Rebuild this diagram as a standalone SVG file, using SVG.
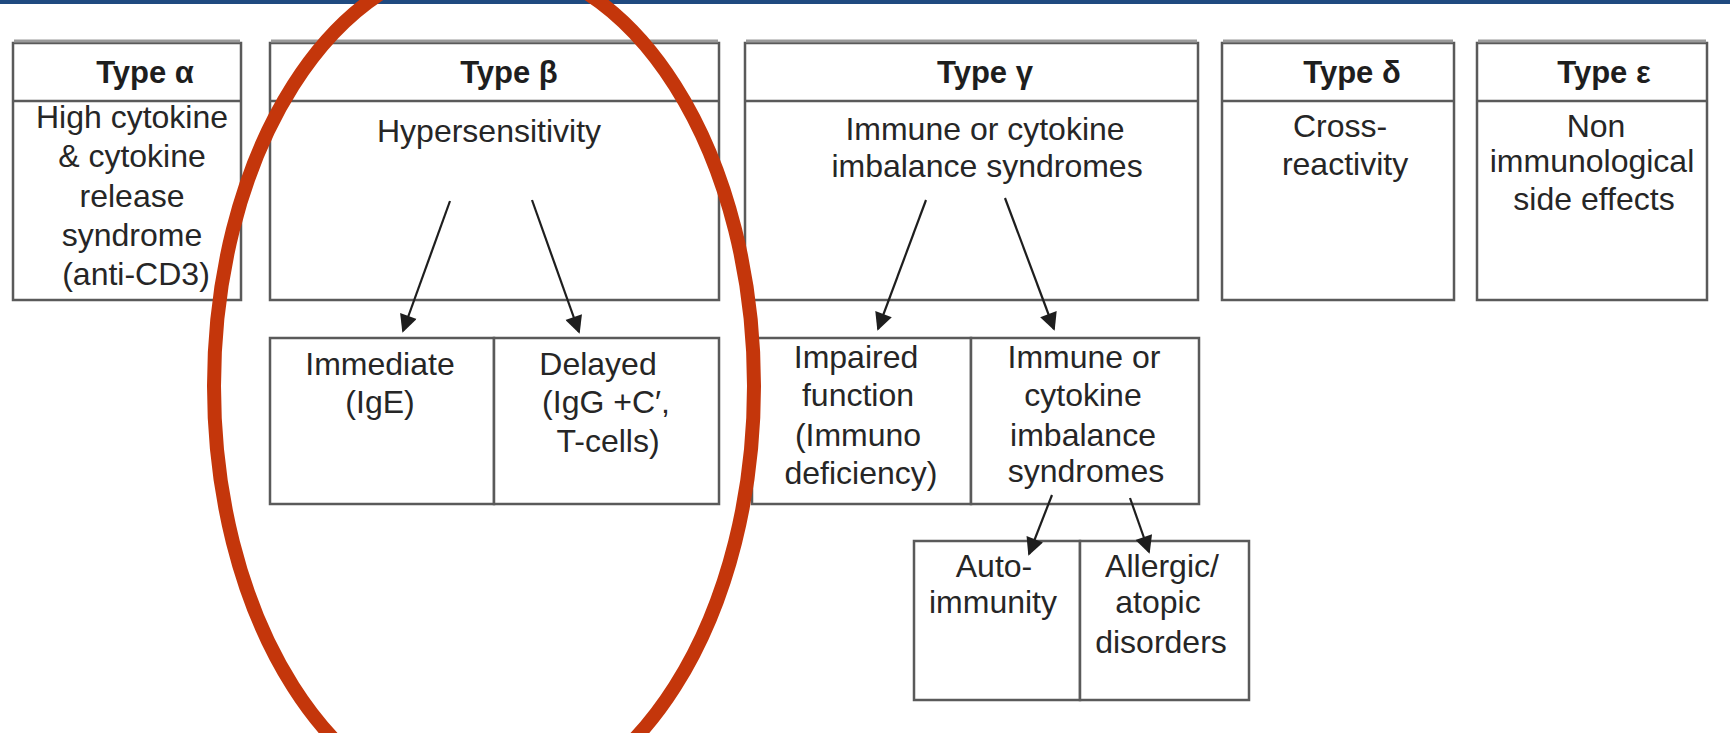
<svg xmlns="http://www.w3.org/2000/svg" width="1730" height="733" viewBox="0 0 1730 733">
<style>
.box{fill:#ffffff;stroke:#5a5a5a;stroke-width:2.5}
.div{stroke:#5a5a5a;stroke-width:2.5}
.topband{stroke:#9a9a9a;stroke-width:3}
.hd{font-family:"Liberation Sans",Arial,sans-serif;font-size:31px;font-weight:bold;fill:#1e1e1e;text-anchor:middle}
.tx{font-family:"Liberation Sans",Arial,sans-serif;font-size:32px;fill:#262626;text-anchor:middle}
.ar{stroke:#1e1e1e;stroke-width:2.2;fill:none;marker-end:url(#ah)}
</style>
<defs>
<marker id="ah" viewBox="0 0 10 10" refX="9" refY="5" markerWidth="9" markerHeight="8" markerUnits="strokeWidth" orient="auto">
<path d="M0,0 L10,5 L0,10 Z" fill="#1e1e1e"/>
</marker>
</defs>
<rect x="0" y="0" width="1730" height="733" fill="#ffffff"/>
<rect x="0" y="0" width="1730" height="4" fill="#1f4a80"/>

<g id="type-alpha">
<rect class="box" x="13" y="43" width="228" height="257"/>
<line class="topband" x1="14" y1="41" x2="240" y2="41"/>
<line class="div" x1="13" y1="101" x2="241" y2="101"/>
<text class="hd" x="145" y="83">Type α</text>
<text class="tx" x="132" y="128">High cytokine</text>
<text class="tx" x="132" y="167">&amp; cytokine</text>
<text class="tx" x="132" y="207">release</text>
<text class="tx" x="132" y="246">syndrome</text>
<text class="tx" x="136" y="285">(anti-CD3)</text>
</g>

<g id="type-beta">
<rect class="box" x="270" y="43" width="449" height="257"/>
<line class="topband" x1="271" y1="41" x2="718" y2="41"/>
<line class="div" x1="270" y1="101" x2="719" y2="101"/>
<text class="hd" x="509" y="83">Type β</text>
<text class="tx" x="489" y="142">Hypersensitivity</text>
</g>

<g id="type-gamma">
<rect class="box" x="745" y="43" width="453" height="257"/>
<line class="topband" x1="746" y1="41" x2="1197" y2="41"/>
<line class="div" x1="745" y1="101" x2="1198" y2="101"/>
<text class="hd" x="985" y="83">Type γ</text>
<text class="tx" x="985" y="140">Immune or cytokine</text>
<text class="tx" x="987" y="177">imbalance syndromes</text>
</g>

<g id="type-delta">
<rect class="box" x="1222" y="43" width="232" height="257"/>
<line class="topband" x1="1223" y1="41" x2="1453" y2="41"/>
<line class="div" x1="1222" y1="101" x2="1454" y2="101"/>
<text class="hd" x="1352" y="83">Type δ</text>
<text class="tx" x="1340" y="137">Cross-</text>
<text class="tx" x="1345" y="175">reactivity</text>
</g>

<g id="type-epsilon">
<rect class="box" x="1477" y="43" width="230" height="257"/>
<line class="topband" x1="1478" y1="41" x2="1706" y2="41"/>
<line class="div" x1="1477" y1="101" x2="1707" y2="101"/>
<text class="hd" x="1604" y="83">Type ε</text>
<text class="tx" x="1596" y="137">Non</text>
<text class="tx" x="1592" y="172">immunological</text>
<text class="tx" x="1594" y="210">side effects</text>
</g>

<g id="beta-immediate">
<rect class="box" x="270" y="338" width="224" height="166"/>
<text class="tx" x="380" y="375">Immediate</text>
<text class="tx" x="380" y="413">(IgE)</text>
</g>

<g id="beta-delayed">
<rect class="box" x="494" y="338" width="225" height="166"/>
<text class="tx" x="598" y="375">Delayed</text>
<text class="tx" x="606" y="413">(IgG +C′,</text>
<text class="tx" x="608" y="452">T-cells)</text>
</g>

<g id="gamma-impaired">
<rect class="box" x="752" y="338" width="219" height="166"/>
<text class="tx" x="856" y="368">Impaired</text>
<text class="tx" x="858" y="406">function</text>
<text class="tx" x="858" y="446">(Immuno</text>
<text class="tx" x="861" y="484">deficiency)</text>
</g>

<g id="gamma-imbalance">
<rect class="box" x="971" y="338" width="228" height="166"/>
<text class="tx" x="1084" y="368">Immune or</text>
<text class="tx" x="1083" y="406">cytokine</text>
<text class="tx" x="1083" y="446">imbalance</text>
<text class="tx" x="1086" y="482">syndromes</text>
</g>

<g id="autoimmunity">
<rect class="box" x="914" y="541" width="166" height="159"/>
<text class="tx" x="994" y="577">Auto-</text>
<text class="tx" x="993" y="613">immunity</text>
</g>

<g id="allergic">
<rect class="box" x="1080" y="541" width="169" height="159"/>
<text class="tx" x="1162" y="577">Allergic/</text>
<text class="tx" x="1158" y="613">atopic</text>
<text class="tx" x="1161" y="653">disorders</text>
</g>

<g id="connectors">
<line class="ar" x1="450" y1="201" x2="403" y2="331"/>
<line class="ar" x1="532" y1="200" x2="579" y2="332"/>
<line class="ar" x1="926" y1="200" x2="878" y2="329"/>
<line class="ar" x1="1005" y1="198" x2="1054" y2="329"/>
<line class="ar" x1="1052" y1="495" x2="1029" y2="554"/>
<line class="ar" x1="1130" y1="498" x2="1149" y2="552"/>
</g>

<ellipse cx="484" cy="386" rx="270" ry="425" fill="none" stroke="#c4360b" stroke-width="14"/>
</svg>
